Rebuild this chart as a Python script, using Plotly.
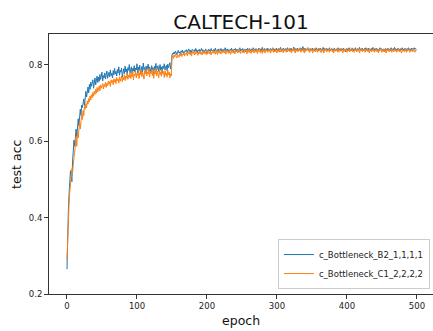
import plotly.graph_objects as go

epochs = list(range(500))

b2_acc = [
    0.265, 0.372, 0.421, 0.462, 0.497, 0.523, 0.512, 0.494, 0.548, 0.571, 0.603, 0.587, 0.619, 0.632, 0.611, 0.648, 0.659, 0.641, 0.672, 0.684,
    0.668, 0.695, 0.688, 0.702, 0.711, 0.694, 0.722, 0.731, 0.716, 0.738, 0.742, 0.727, 0.749, 0.736, 0.755, 0.744, 0.752, 0.761, 0.739, 0.758,
    0.766, 0.748, 0.759, 0.771, 0.754, 0.768, 0.757, 0.775, 0.762, 0.769, 0.781, 0.758, 0.772, 0.766, 0.779, 0.763, 0.776, 0.784, 0.765, 0.774,
    0.781, 0.769, 0.787, 0.772, 0.778, 0.766, 0.785, 0.774, 0.791, 0.776, 0.783, 0.771, 0.788, 0.779, 0.795, 0.773, 0.786, 0.781, 0.792, 0.768,
    0.784, 0.790, 0.777, 0.797, 0.782, 0.789, 0.774, 0.793, 0.786, 0.801, 0.779, 0.788, 0.795, 0.776, 0.791, 0.784, 0.798, 0.781, 0.792, 0.787,
    0.803, 0.779, 0.794, 0.786, 0.799, 0.775, 0.789, 0.796, 0.782, 0.805, 0.788, 0.793, 0.778, 0.797, 0.785, 0.791, 0.802, 0.783, 0.795, 0.789,
    0.781, 0.798, 0.787, 0.793, 0.776, 0.796, 0.788, 0.804, 0.785, 0.792, 0.798, 0.783, 0.790, 0.801, 0.786, 0.795, 0.779, 0.797, 0.791, 0.803,
    0.787, 0.794, 0.799, 0.785, 0.802, 0.792, 0.797, 0.806, 0.789, 0.798,
    0.826, 0.831, 0.828, 0.834, 0.829, 0.836, 0.832, 0.827, 0.835, 0.838, 0.831, 0.834, 0.829, 0.837, 0.833, 0.839, 0.830, 0.835, 0.832, 0.838,
    0.835, 0.840, 0.833, 0.837, 0.842, 0.834, 0.839, 0.831, 0.836, 0.841, 0.838, 0.833, 0.840, 0.835, 0.843, 0.837, 0.832, 0.839, 0.836, 0.841,
    0.834, 0.838, 0.843, 0.836, 0.840, 0.833, 0.839, 0.835, 0.842, 0.837, 0.831, 0.838, 0.841, 0.836, 0.840, 0.834, 0.843, 0.837, 0.839, 0.835,
    0.841, 0.836, 0.844, 0.838, 0.833, 0.840, 0.837, 0.842, 0.835, 0.839, 0.843, 0.836, 0.840, 0.834, 0.841, 0.838, 0.845, 0.837, 0.839, 0.842,
    0.836, 0.840, 0.833, 0.841, 0.838, 0.844, 0.837, 0.840, 0.835, 0.842, 0.839, 0.843, 0.836, 0.841, 0.838, 0.834, 0.840, 0.845, 0.837, 0.841,
    0.839, 0.843, 0.836, 0.840, 0.842, 0.835, 0.841, 0.838, 0.844, 0.837, 0.840, 0.843, 0.836, 0.839, 0.842, 0.838, 0.845, 0.837, 0.841, 0.839,
    0.843, 0.836, 0.840, 0.838, 0.844, 0.839, 0.842, 0.835, 0.841, 0.846, 0.838, 0.840, 0.843, 0.837, 0.841, 0.839, 0.844, 0.836, 0.842, 0.840,
    0.838, 0.843, 0.837, 0.841, 0.845, 0.839, 0.842, 0.836, 0.840, 0.844, 0.838, 0.841, 0.843, 0.837, 0.840, 0.846, 0.839, 0.842, 0.838, 0.844,
    0.840, 0.837, 0.843, 0.839, 0.841, 0.845, 0.838, 0.842, 0.836, 0.840, 0.844, 0.839, 0.842, 0.838, 0.847, 0.840, 0.843, 0.837, 0.841, 0.844,
    0.839, 0.842, 0.838, 0.845, 0.840, 0.843, 0.837, 0.848, 0.841, 0.839, 0.844, 0.838, 0.842, 0.840, 0.845, 0.837, 0.841, 0.843, 0.839, 0.842,
    0.838, 0.844, 0.840, 0.836, 0.842, 0.839, 0.845, 0.838, 0.841, 0.843, 0.837, 0.840, 0.844, 0.839, 0.842, 0.838, 0.846, 0.840, 0.843, 0.839,
    0.841, 0.844, 0.838, 0.842, 0.840, 0.845, 0.837, 0.841, 0.843, 0.839, 0.842, 0.838, 0.844, 0.840, 0.836, 0.842, 0.839, 0.845, 0.841, 0.838,
    0.843, 0.840, 0.837, 0.842, 0.839, 0.844, 0.838, 0.841, 0.835, 0.840, 0.843, 0.838, 0.841, 0.845, 0.839, 0.842, 0.837, 0.840, 0.844, 0.838,
    0.842, 0.839, 0.845, 0.840, 0.837, 0.843, 0.839, 0.841, 0.846, 0.838, 0.842, 0.840, 0.844, 0.837, 0.841, 0.843, 0.839, 0.845, 0.840, 0.842,
    0.838, 0.844, 0.840, 0.842, 0.837, 0.843, 0.839, 0.846, 0.841, 0.838, 0.843, 0.840, 0.844, 0.839, 0.842, 0.837, 0.841, 0.845, 0.839, 0.843,
    0.840, 0.838, 0.842, 0.835, 0.840, 0.843, 0.838, 0.841, 0.844, 0.839, 0.842, 0.837, 0.841, 0.845, 0.840, 0.838, 0.843, 0.839, 0.846, 0.841,
    0.838, 0.842, 0.840, 0.844, 0.839, 0.841, 0.836, 0.843, 0.840, 0.845, 0.838, 0.842, 0.839, 0.844, 0.841, 0.837, 0.843, 0.840, 0.845, 0.839,
    0.842, 0.838, 0.844, 0.840, 0.843, 0.839, 0.845, 0.841, 0.843, 0.840,
]

c1_acc = [
    0.289, 0.356, 0.398, 0.437, 0.468, 0.492, 0.511, 0.528, 0.519, 0.546, 0.559, 0.571, 0.598, 0.613, 0.587, 0.624, 0.609, 0.638, 0.651, 0.632,
    0.664, 0.672, 0.657, 0.681, 0.667, 0.692, 0.684, 0.699, 0.688, 0.706, 0.697, 0.712, 0.703, 0.719, 0.708, 0.722, 0.714, 0.728, 0.718, 0.731,
    0.723, 0.736, 0.726, 0.741, 0.729, 0.738, 0.745, 0.732, 0.748, 0.739, 0.744, 0.751, 0.737, 0.749, 0.743, 0.755, 0.741, 0.752, 0.746, 0.758,
    0.749, 0.756, 0.744, 0.761, 0.753, 0.759, 0.748, 0.764, 0.755, 0.762, 0.751, 0.767, 0.758, 0.763, 0.752, 0.769, 0.757, 0.765, 0.771, 0.756,
    0.768, 0.761, 0.774, 0.759, 0.771, 0.765, 0.778, 0.762, 0.773, 0.767, 0.781, 0.764, 0.775, 0.769, 0.783, 0.761, 0.776, 0.771, 0.784, 0.766,
    0.778, 0.772, 0.786, 0.764, 0.779, 0.774, 0.788, 0.769, 0.781, 0.775, 0.763, 0.784, 0.777, 0.789, 0.771, 0.782, 0.776, 0.791, 0.768, 0.783,
    0.777, 0.786, 0.772, 0.789, 0.765, 0.781, 0.776, 0.792, 0.771, 0.784, 0.778, 0.766, 0.787, 0.774, 0.782, 0.770, 0.788, 0.776, 0.783, 0.767,
    0.785, 0.773, 0.779, 0.768, 0.786, 0.774, 0.781, 0.766, 0.777, 0.771,
    0.819, 0.824, 0.817, 0.826, 0.821, 0.828, 0.823, 0.818, 0.827, 0.825, 0.820, 0.829, 0.824, 0.831, 0.822, 0.828, 0.826, 0.832, 0.823, 0.830,
    0.827, 0.833, 0.824, 0.834, 0.829, 0.836, 0.826, 0.831, 0.823, 0.835, 0.830, 0.837, 0.826, 0.833, 0.828, 0.835, 0.831, 0.825, 0.834, 0.829,
    0.836, 0.828, 0.833, 0.826, 0.835, 0.830, 0.838, 0.829, 0.834, 0.827, 0.837, 0.828, 0.832, 0.836, 0.829, 0.835, 0.826, 0.834, 0.831, 0.838,
    0.830, 0.836, 0.828, 0.838, 0.833, 0.827, 0.837, 0.831, 0.839, 0.829, 0.835, 0.830, 0.837, 0.832, 0.840, 0.831, 0.836, 0.828, 0.838, 0.833,
    0.837, 0.830, 0.839, 0.834, 0.828, 0.838, 0.832, 0.841, 0.831, 0.836, 0.829, 0.839, 0.834, 0.837, 0.831, 0.841, 0.833, 0.838, 0.830, 0.836,
    0.839, 0.832, 0.837, 0.831, 0.841, 0.834, 0.838, 0.829, 0.836, 0.842, 0.832, 0.839, 0.835, 0.830, 0.838, 0.834, 0.842, 0.831, 0.837, 0.840,
    0.833, 0.841, 0.830, 0.838, 0.835, 0.843, 0.832, 0.839, 0.836, 0.830, 0.841, 0.834, 0.838, 0.831, 0.842, 0.836, 0.839, 0.833, 0.843, 0.835,
    0.838, 0.831, 0.840, 0.836, 0.844, 0.833, 0.839, 0.834, 0.841, 0.837, 0.831, 0.840, 0.835, 0.843, 0.833, 0.839, 0.834, 0.841, 0.837, 0.832,
    0.840, 0.836, 0.843, 0.833, 0.839, 0.834, 0.842, 0.837, 0.844, 0.834, 0.839, 0.832, 0.841, 0.836, 0.843, 0.837, 0.831, 0.842, 0.836, 0.840,
    0.834, 0.842, 0.837, 0.844, 0.833, 0.839, 0.836, 0.843, 0.837, 0.831, 0.841, 0.835, 0.842, 0.838, 0.845, 0.836, 0.840, 0.833, 0.839, 0.843,
    0.837, 0.831, 0.841, 0.836, 0.843, 0.834, 0.839, 0.842, 0.833, 0.840, 0.836, 0.844, 0.837, 0.832, 0.842, 0.836, 0.839, 0.831, 0.840, 0.837,
    0.843, 0.834, 0.839, 0.836, 0.842, 0.833, 0.840, 0.837, 0.844, 0.834, 0.839, 0.831, 0.842, 0.836, 0.840, 0.837, 0.843, 0.833, 0.839, 0.835,
    0.841, 0.836, 0.844, 0.837, 0.831, 0.840, 0.835, 0.842, 0.837, 0.843, 0.833, 0.839, 0.836, 0.842, 0.834, 0.840, 0.837, 0.845, 0.835, 0.839,
    0.833, 0.842, 0.837, 0.840, 0.834, 0.843, 0.836, 0.839, 0.831, 0.840, 0.837, 0.844, 0.834, 0.839, 0.836, 0.842, 0.833, 0.840, 0.837, 0.843,
    0.834, 0.839, 0.831, 0.842, 0.837, 0.834, 0.841, 0.836, 0.843, 0.833, 0.839, 0.836, 0.842, 0.834, 0.840, 0.831, 0.839, 0.836, 0.843, 0.837,
    0.833, 0.840, 0.836, 0.842, 0.834, 0.839, 0.831, 0.840, 0.837, 0.844, 0.834, 0.839, 0.836, 0.842, 0.833, 0.840, 0.837, 0.834, 0.842, 0.836,
    0.840, 0.833, 0.839, 0.836, 0.843, 0.834, 0.840, 0.837, 0.831, 0.842, 0.836, 0.839, 0.834, 0.843, 0.837, 0.833, 0.840, 0.836, 0.842, 0.837,
    0.833, 0.840, 0.836, 0.839, 0.834, 0.842, 0.837, 0.833, 0.839, 0.836,
]

series_names = ["c_Bottleneck_B2_1,1,1,1", "c_Bottleneck_C1_2,2,2,2"]
series_colors = ["#1f77b4", "#ff7f0e"]
x_ticks = [0, 100, 200, 300, 400, 500]
y_ticks = [0.2, 0.4, 0.6, 0.8]

FONT = "DejaVu Sans, Liberation Sans, sans-serif"

fig = go.Figure()
for name, vals, col in zip(series_names, [b2_acc, c1_acc], series_colors):
    fig.add_trace(go.Scatter(x=epochs, y=vals, mode="lines", name=name,
                             line=dict(color=col, width=1)))

axis_common = dict(showgrid=False, zeroline=False, showline=True, linecolor="#333",
                   linewidth=1, ticks="outside", ticklen=4, tickcolor="#333",
                   tickfont=dict(family=FONT, size=8.5, color="#222"))

fig.update_layout(
    width=433, height=331,
    margin=dict(l=49, r=0, t=34, b=37),
    paper_bgcolor="white", plot_bgcolor="white",
    font=dict(family=FONT),
    title=dict(text="CALTECH-101", x=0.5, xref="paper", y=1 - 22 / 331, yref="container",
               xanchor="center", yanchor="middle",
               font=dict(family=FONT, size=20, color="#111")),
    xaxis=dict(range=[-25.7, 522.9], tickvals=x_ticks, mirror=True, **axis_common),
    yaxis=dict(range=[0.2, 0.881], tickvals=y_ticks, tickformat=".1f", **axis_common),
    showlegend=True,
    legend=dict(x=0.992, y=0.019, xanchor="right", yanchor="bottom",
                bgcolor="rgba(255,255,255,0.8)", bordercolor="#cccccc", borderwidth=1,
                font=dict(family=FONT, size=8.5, color="#222"),
                tracegroupgap=0, itemwidth=30),
    annotations=[
        dict(text="epoch", xref="paper", yref="paper", x=0.5, y=-(320 - 294) / 260,
             xanchor="center", yanchor="middle", showarrow=False,
             font=dict(family=FONT, size=12.5, color="#111")),
        dict(text="test acc", xref="paper", yref="paper", x=-(49 - 16) / 384, y=0.5,
             xanchor="center", yanchor="middle", showarrow=False, textangle=-90,
             font=dict(family=FONT, size=12.5, color="#111")),
    ],
)

fig.write_html("out.html")
